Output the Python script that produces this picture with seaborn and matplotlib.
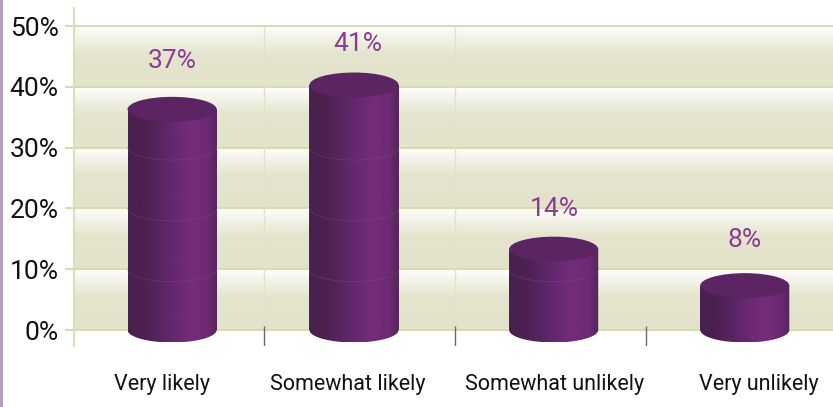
import numpy as np
import seaborn as sns
import matplotlib.pyplot as plt
from matplotlib.colors import LinearSegmentedColormap
from matplotlib.patches import Ellipse, Rectangle, PathPatch
from matplotlib.path import Path

# data
categories = ['Very likely', 'Somewhat likely', 'Somewhat unlikely', 'Very unlikely']
values = [37, 41, 14, 8]
y_ticks = [0, 10, 20, 30, 40, 50]

# small layout corrections, the source chart is not evenly spaced
bar_shift = [0.017, -0.029, 0.018, 0.02]
label_shift = [-0.035, -0.06, 0.02, 0.095]
text_gap = [7.3, 6.1, 5.9, 6.8]
text_shift = [0.02, -0.008, 0.02, 0.02]

GRID = '#d9d9b0'
PURPLE_TEXT = '#8c3a93'
TOP = '#5c2463'

sns.set_style('white')
plt.rcParams['font.family'] = ['Roboto', 'DejaVu Sans']

fig = plt.figure(figsize=(8.33, 4.07), dpi=100)
ax = fig.add_axes([73.5 / 833, 1 - 346 / 407, (833 - 73.5) / 833, 338 / 407])
x_lim = (-0.5, (833 - 73.5) / 190.7 - 0.5)
y_lim = (-16 / 6.08, 322 / 6.08)

sns.barplot(x=categories, y=values, color=TOP, width=0.467, linewidth=0, ax=ax, zorder=3)

# background bands between the gridlines
band_cmap = LinearSegmentedColormap.from_list('band', [(0, '#e3e3ca'), (0.55, '#e5e5cf'), (0.9, '#f8f8f2'), (1, '#ffffff')])
band = np.linspace(0, 1, 64).reshape(-1, 1)
for lo, hi in zip(y_ticks[:-1], y_ticks[1:]):
    ax.imshow(band, origin='lower', extent=(x_lim[0], x_lim[1], lo, hi), aspect='auto',
              cmap=band_cmap, zorder=0)

# cylinders, body shading goes dark left to bright right
body_cmap = LinearSegmentedColormap.from_list('body', [
    (0, '#48204d'), (0.2, '#4d2152'), (0.5, '#652870'), (0.72, '#752c7a'),
    (0.9, '#6c2a72'), (1, '#55245c')])
shade = np.linspace(0, 1, 128).reshape(1, -1)
ry = 2.05
depth = 0.7

for i, (bar, value, shift) in enumerate(zip(list(ax.patches), values, bar_shift)):
    bar.set_x(bar.get_x() + shift)
    x0 = bar.get_x()
    w = bar.get_width()
    xc = x0 + w / 2
    top = value - depth
    bar.set_height(top)

    t = np.linspace(np.pi, 2 * np.pi, 60)
    xs = np.r_[xc + w / 2 * np.cos(t), x0 + w, x0]
    ys = np.r_[ry * np.sin(t), top, top]
    outline = PathPatch(Path(np.c_[xs, ys]), transform=ax.transData, fc='none', ec='none')
    ax.add_patch(outline)
    img = ax.imshow(shade, extent=(x0, x0 + w, -ry, top), aspect='auto', cmap=body_cmap, zorder=4)
    img.set_clip_path(outline)

    # faint rings where the gridlines go around the cylinder
    for level in y_ticks[:-1]:
        if level >= top - 1:
            continue
        t_back = np.linspace(0, np.pi, 40)
        ax.plot(xc + w / 2 * np.cos(t_back), level + ry * np.sin(t_back), color='#8f5596', lw=0.5,
                ls=(0, (1, 4)), alpha=0.35, zorder=5)
        if level > 0:
            ax.plot(xc + w / 2 * np.cos(t), level + ry * np.sin(t), color='#8f5596', lw=0.6,
                    alpha=0.35, zorder=5)

    ax.add_patch(Ellipse((xc, top), w, 2 * ry, fc=TOP, ec='none', zorder=6))

    ax.text(i + text_shift[i], value + text_gap[i], f'{value}%', color=PURPLE_TEXT,
            fontsize=19, ha='center', va='center', zorder=7)

ax.set_xlim(x_lim)
ax.set_ylim(y_lim)

# grid and axes
for level in y_ticks:
    ax.axhline(level, color=GRID, lw=1.4, zorder=1)
for xv in [0.5, 1.5]:
    ax.vlines(xv, 0, 50, color='#e2e2c8', lw=1, zorder=1)
ax.vlines([0.5, 1.5, 2.5], y_lim[0], 0.7, color='#6a6a6a', lw=1, zorder=2)

sns.despine(ax=ax, top=True, right=True, bottom=True)
ax.spines['left'].set_color('#dedeb8')
ax.spines['left'].set_linewidth(1.6)

ax.set_yticks(y_ticks)
ax.set_yticklabels([f'{v}%' for v in y_ticks])
ax.tick_params(axis='y', left=True, length=6.5, width=1.4, color=GRID, pad=4.3, labelsize=19,
               labelcolor='#111111')
ax.set_xticks([i + s for i, s in enumerate(label_shift)])
ax.set_xticklabels(categories)
ax.tick_params(axis='x', bottom=False, pad=17, labelsize=15.5, labelcolor='#111111')

# lilac strip on the left edge of the page
fig.add_artist(Rectangle((0, 0), 2.5 / 833, 1, transform=fig.transFigure, fc='#b89cc4', ec='none'))

fig.savefig('out.png', dpi=100)
